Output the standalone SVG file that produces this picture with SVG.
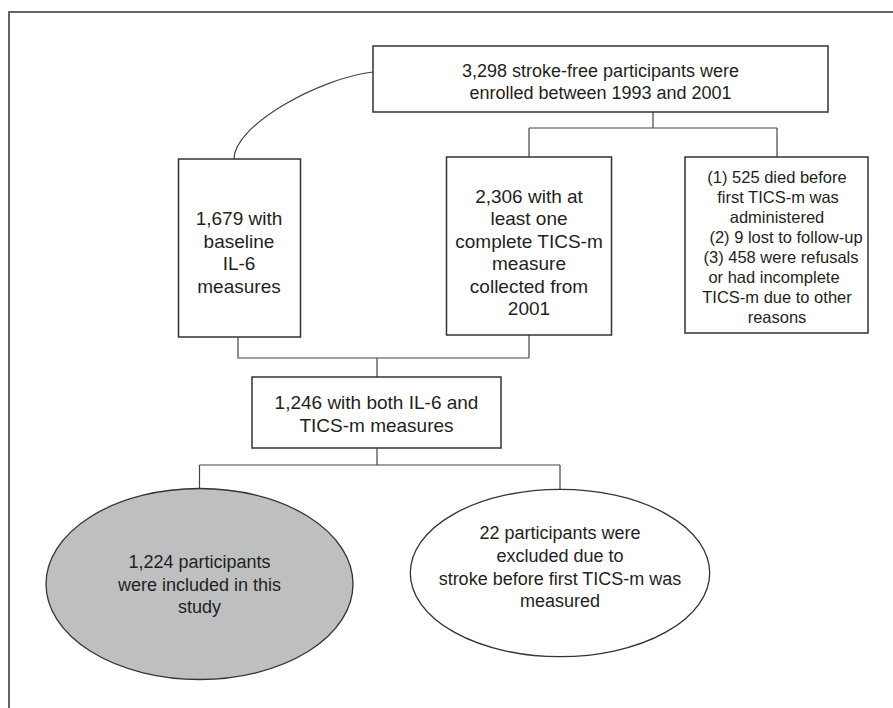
<svg xmlns="http://www.w3.org/2000/svg" width="893" height="708" viewBox="0 0 893 708">
<style>
  .box { fill: #ffffff; stroke: #333333; stroke-width: 1.5; }
  .ell { stroke: #333333; stroke-width: 1.3; }
  .conn { fill: none; stroke: #444444; stroke-width: 1.2; }
  .frame { fill: none; stroke: #666666; stroke-width: 2; }
  text { font-family: "Liberation Sans", Arial, sans-serif; fill: #231f20; text-anchor: middle; }
  .t19 { font-size: 19px; }
  .t18 { font-size: 18px; }
  .t16 { font-size: 16.5px; }
</style>
<rect width="893" height="708" fill="#ffffff"/>
<path class="frame" d="M9,708 L9,12 L893,12"/>

<g id="connectors">
  <path class="conn" d="M373,72 C320,78 234,125 234,159"/>
  <path class="conn" d="M653,112 L653,128 M529,128 L777,128 M529,128 L529,157 M777,128 L777,157"/>
  <path class="conn" d="M238,337 L238,358 L529,358 M529,335 L529,358 M377,358 L377,377"/>
  <path class="conn" d="M377,448 L377,465 M199.5,465 L560,465 M199.5,465 L199.5,488.5 M560,465 L560,489.5"/>
</g>

<g id="n_enrolled">
  <rect class="box" x="373" y="46" width="455" height="66"/>
  <text class="t18" x="600.5" y="76.5">3,298 stroke-free participants were</text>
  <text class="t18" x="600.5" y="99">enrolled between 1993 and 2001</text>
</g>

<g id="n_il6">
  <rect class="box" x="178.5" y="159" width="122" height="178"/>
  <text class="t19" x="239" y="225">1,679 with</text>
  <text class="t19" x="239" y="247.5">baseline</text>
  <text class="t19" x="239" y="270">IL-6</text>
  <text class="t19" x="239" y="292.5">measures</text>
</g>

<g id="n_tics">
  <rect class="box" x="446.5" y="157" width="165" height="178"/>
  <text class="t19" x="529" y="203">2,306 with at</text>
  <text class="t19" x="529" y="225.4">least one</text>
  <text class="t19" x="529" y="247.8">complete TICS-m</text>
  <text class="t19" x="529" y="270.2">measure</text>
  <text class="t19" x="529" y="292.6">collected from</text>
  <text class="t19" x="529" y="315">2001</text>
</g>

<g id="n_lost">
  <rect class="box" x="685" y="157" width="183" height="176"/>
  <text class="t16" x="777" y="183">(1) 525 died before</text>
  <text class="t16" x="778" y="203">first TICS-m was</text>
  <text class="t16" x="777" y="223">administered</text>
  <text class="t16" x="786" y="243">(2) 9 lost to follow-up</text>
  <text class="t16" x="781" y="263">(3) 458 were refusals</text>
  <text class="t16" x="774" y="283">or had incomplete</text>
  <text class="t16" x="777" y="303">TICS-m due to other</text>
  <text class="t16" x="777" y="323">reasons</text>
</g>

<g id="n_both">
  <rect class="box" x="252" y="377" width="249" height="71"/>
  <text class="t19" x="376.5" y="409">1,246 with both IL-6 and</text>
  <text class="t19" x="376.5" y="432">TICS-m measures</text>
</g>

<g id="n_included">
  <ellipse class="ell" cx="199.5" cy="584" rx="153.5" ry="95.5" fill="#bebfc1"/>
  <text class="t18" x="199.5" y="567.5">1,224 participants</text>
  <text class="t18" x="199.5" y="590.5">were included in this</text>
  <text class="t18" x="199.5" y="613">study</text>
</g>

<g id="n_excluded">
  <ellipse class="ell" cx="560" cy="573" rx="149.7" ry="83.7" fill="#ffffff"/>
  <text class="t18" x="560" y="538.5">22 participants were</text>
  <text class="t18" x="560" y="561.5">excluded due to</text>
  <text class="t18" x="560" y="584.5">stroke before first TICS-m was</text>
  <text class="t18" x="560" y="607">measured</text>
</g>
</svg>
